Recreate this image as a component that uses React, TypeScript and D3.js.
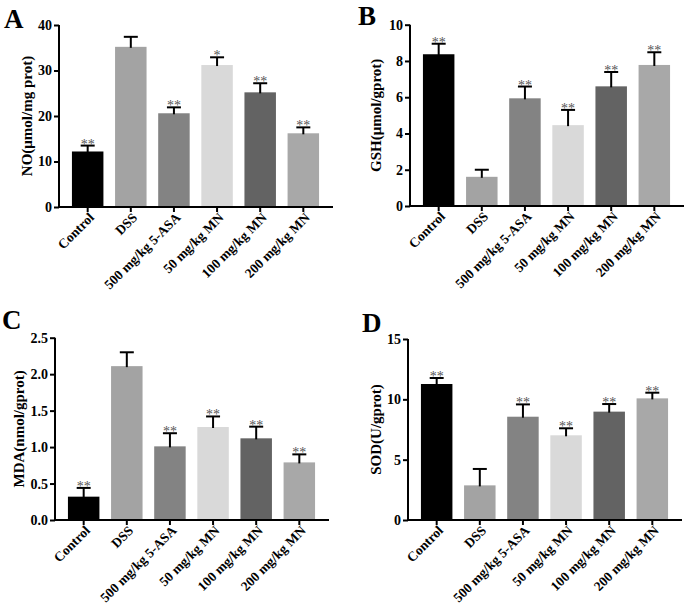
import React, { useEffect, useRef } from "react";
import * as d3 from "d3";

// groups shown on every panel
const groups = [
  "Control",
  "DSS",
  "500 mg/kg 5-ASA",
  "50 mg/kg MN",
  "100 mg/kg MN",
  "200 mg/kg MN",
];
const barColors = ["#000000", "#a3a3a3", "#838383", "#d9d9d9", "#636363", "#a8a8a8"];

// A: NO
const noMean = [12.2, 35.2, 20.6, 31.2, 25.2, 16.2];
const noUpper = [13.5, 37.4, 21.9, 32.9, 27.2, 17.5];
const noStars = ["**", "", "**", "*", "**", "**"];
const noTicks = [0, 10, 20, 30, 40];

// B: GSH
const gshMean = [8.37, 1.61, 5.94, 4.46, 6.6, 7.78];
const gshUpper = [8.95, 2.0, 6.59, 5.3, 7.39, 8.48];
const gshStars = ["**", "", "**", "**", "**", "**"];
const gshTicks = [0, 2, 4, 6, 8, 10];

// C: MDA
const mdaMean = [0.32, 2.11, 1.01, 1.275, 1.12, 0.79];
const mdaUpper = [0.44, 2.3, 1.19, 1.42, 1.28, 0.9];
const mdaStars = ["**", "", "**", "**", "**", "**"];
const mdaTicks = [0, 0.5, 1.0, 1.5, 2.0, 2.5];

// D: SOD
const sodMean = [11.27, 2.87, 8.56, 7.02, 8.98, 10.08];
const sodUpper = [11.77, 4.23, 9.58, 7.6, 9.61, 10.55];
const sodStars = ["**", "", "**", "**", "**", "**"];
const sodTicks = [0, 5, 10, 15];

const FONT = "'Liberation Serif', 'Times New Roman', serif";

const panels = [
  { letter: "A", lx: 4, ly: 28, title: "NO(\u03bcmol/mg prot)", tx: 27, x0: 59, yTop: 25, yBot: 207,
    mean: noMean, upper: noUpper, stars: noStars, ticks: noTicks, fmt: d3.format("d") },
  { letter: "B", lx: 358, ly: 25, title: "GSH(\u03bcmol/gprot)", tx: 376, x0: 410, yTop: 24.7, yBot: 206,
    mean: gshMean, upper: gshUpper, stars: gshStars, ticks: gshTicks, fmt: d3.format("d") },
  { letter: "C", lx: 2, ly: 329, title: "MDA(nmol/gprot)", tx: 19, x0: 55, yTop: 337.7, yBot: 520,
    mean: mdaMean, upper: mdaUpper, stars: mdaStars, ticks: mdaTicks, fmt: d3.format(".1f") },
  { letter: "D", lx: 362, ly: 332, title: "SOD(U/gprot)", tx: 376, x0: 408, yTop: 339, yBot: 520,
    mean: sodMean, upper: sodUpper, stars: sodStars, ticks: sodTicks, fmt: d3.format("d") },
];

const App = () => {
  const svgRef = useRef<SVGSVGElement>(null);

  useEffect(() => {
    document.body.style.margin = "0";
    const svg = d3.select(svgRef.current);
    svg.selectAll("*").remove();

    panels.forEach((p) => {
      const g = svg.append("g");
      const x = d3
        .scaleBand()
        .domain(groups)
        .range([p.x0, p.x0 + 273])
        .paddingInner(0.27)
        .paddingOuter(0.3);
      const maxTick = p.ticks[p.ticks.length - 1];
      const y = d3.scaleLinear().domain([0, maxTick]).range([p.yBot, p.yTop]);

      // bars
      g.selectAll("rect.bar")
        .data(groups)
        .join("rect")
        .attr("x", (d) => x(d)!)
        .attr("y", (d, i) => y(p.mean[i]))
        .attr("width", x.bandwidth())
        .attr("height", (d, i) => y(0) - y(p.mean[i]))
        .attr("fill", (d, i) => barColors[i]);

      // upper error bars
      const cx = (d: string) => x(d)! + x.bandwidth() / 2;
      g.selectAll("line.err")
        .data(groups)
        .join("line")
        .attr("x1", cx)
        .attr("x2", cx)
        .attr("y1", (d, i) => y(p.mean[i]) + 1)
        .attr("y2", (d, i) => y(p.upper[i]))
        .attr("stroke", "#000")
        .attr("stroke-width", 2);
      g.selectAll("line.cap")
        .data(groups)
        .join("line")
        .attr("x1", (d) => cx(d) - 7)
        .attr("x2", (d) => cx(d) + 7)
        .attr("y1", (d, i) => y(p.upper[i]))
        .attr("y2", (d, i) => y(p.upper[i]))
        .attr("stroke", "#000")
        .attr("stroke-width", 2);

      // significance stars
      g.selectAll("text.star")
        .data(groups)
        .join("text")
        .attr("x", cx)
        .attr("y", (d, i) => y(p.upper[i]) + 3)
        .attr("text-anchor", "middle")
        .attr("font-family", FONT)
        .attr("font-size", "14px")
        .attr("fill", "#555555")
        .text((d, i) => p.stars[i]);

      // y axis
      const yAxis = g
        .append("g")
        .attr("transform", `translate(${p.x0},0)`)
        .call(d3.axisLeft(y).tickValues(p.ticks).tickFormat(p.fmt as any).tickSize(5).tickPadding(2));
      yAxis.select(".domain").attr("stroke-width", 2).attr("d", `M0,${p.yTop}V${p.yBot}`);
      yAxis.selectAll(".tick line").attr("stroke-width", 2);
      yAxis
        .selectAll(".tick text")
        .attr("font-family", FONT)
        .attr("font-size", "14px")
        .attr("font-weight", "bold")
        .attr("fill", "#000");

      // x axis
      const xAxis = g
        .append("g")
        .attr("transform", `translate(0,${p.yBot})`)
        .call(d3.axisBottom(x).tickSize(5).tickSizeOuter(0));
      xAxis.select(".domain").attr("stroke-width", 2).attr("d", `M${p.x0 - 1},0H${p.x0 + 274}`);
      xAxis.selectAll(".tick line").attr("stroke-width", 2);
      xAxis
        .selectAll(".tick text")
        .attr("font-family", FONT)
        .attr("font-size", "13.5px")
        .attr("font-weight", "bold")
        .attr("fill", "#000")
        .attr("text-anchor", "end")
        .attr("dy", "0.35em")
        .attr("transform", "translate(4,8) rotate(-45)")
        .attr("y", 0)
        .attr("x", 0);

      // y title
      g.append("text")
        .attr("transform", `translate(${p.tx},${(p.yTop + p.yBot) / 2}) rotate(-90)`)
        .attr("text-anchor", "middle")
        .attr("dy", "0.35em")
        .attr("font-family", FONT)
        .attr("font-size", "15px")
        .attr("font-weight", "bold")
        .text(p.title);

      // panel letter
      g.append("text")
        .attr("x", p.lx)
        .attr("y", p.ly)
        .attr("font-family", FONT)
        .attr("font-size", "27px")
        .attr("font-weight", "bold")
        .text(p.letter);
    });
  }, []);

  return <svg ref={svgRef} width={687} height={613} style={{ display: "block", background: "#fff" }} />;
};

export default App;
